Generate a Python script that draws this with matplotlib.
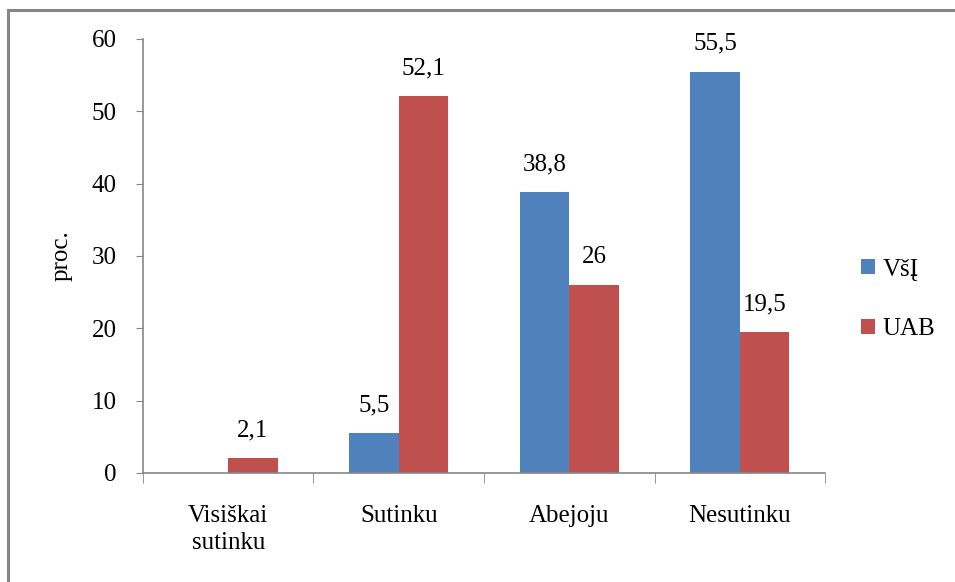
import matplotlib.pyplot as plt
import numpy as np
from matplotlib.lines import Line2D

categories = ["Visiškai\nsutinku", "Sutinku", "Abejoju", "Nesutinku"]
series_names = ["VšĮ", "UAB"]
vsi_values = [np.nan, 5.5, 38.8, 55.5]
uab_values = [2.1, 52.1, 26.0, 19.5]
y_ticks = [0, 10, 20, 30, 40, 50, 60]

colors = ["#4F81BD", "#C0504D"]
axis_gray = "#868686"
font_size = 18

plt.rcParams["font.family"] = ["Liberation Serif", "DejaVu Serif"]


def _fmt(value: float) -> str:
    return f"{value:g}".replace(".", ",")


fig = plt.figure(figsize=(9.55, 5.82), dpi=100)
ax = fig.add_axes([0.1497, 0.1873, 0.7142, 0.7457])

# outer chart frame (only top and left edges visible in the crop)
fig.add_artist(Line2D([0.0085, 0.0085], [0.0, 0.983], transform=fig.transFigure,
                      color=axis_gray, linewidth=2.2))
fig.add_artist(Line2D([0.0085, 1.0], [0.983, 0.983], transform=fig.transFigure,
                      color=axis_gray, linewidth=2.2))

x = np.arange(len(categories))
width = 0.29
for idx, (name, values) in enumerate(zip(series_names, [vsi_values, uab_values])):
    offset = (idx - 0.5) * width
    vals = np.nan_to_num(np.array(values, dtype=float))
    ax.bar(x + offset, vals, width=width, color=colors[idx], label=name)
    for xi, v in zip(x, values):
        if np.isnan(v):
            continue
        ax.annotate(_fmt(v), (xi + offset, v), xytext=(0, 20),
                    textcoords="offset points", ha="center", va="center",
                    fontsize=font_size)

ax.set_xlim(-0.5, len(categories) - 0.5)
ax.set_ylim(0, 60)
ax.set_yticks(y_ticks)
ax.set_yticklabels([str(t) for t in y_ticks], fontsize=font_size)
ax.set_xticks(x)
ax.set_xticklabels(categories, fontsize=font_size, linespacing=1.3)
ax.tick_params(axis="x", length=0, pad=23)
ax.set_xticks(np.arange(-0.5, len(categories)), minor=True)
ax.tick_params(axis="x", which="minor", length=7, color=axis_gray, direction="out")
ax.tick_params(axis="y", length=5, color=axis_gray, direction="out", pad=14)

for side in ["top", "right"]:
    ax.spines[side].set_visible(False)
for side in ["left", "bottom"]:
    ax.spines[side].set_color(axis_gray)
    ax.spines[side].set_linewidth(1.2)

ax.set_ylabel("proc.", fontsize=font_size, labelpad=14)

ax.legend(loc="center left", bbox_to_anchor=(1.02, 0.40), frameon=False,
          fontsize=font_size, handlelength=0.55, handleheight=0.55,
          handletextpad=0.3, labelspacing=1.5)

fig.savefig("out.png", dpi=100)
